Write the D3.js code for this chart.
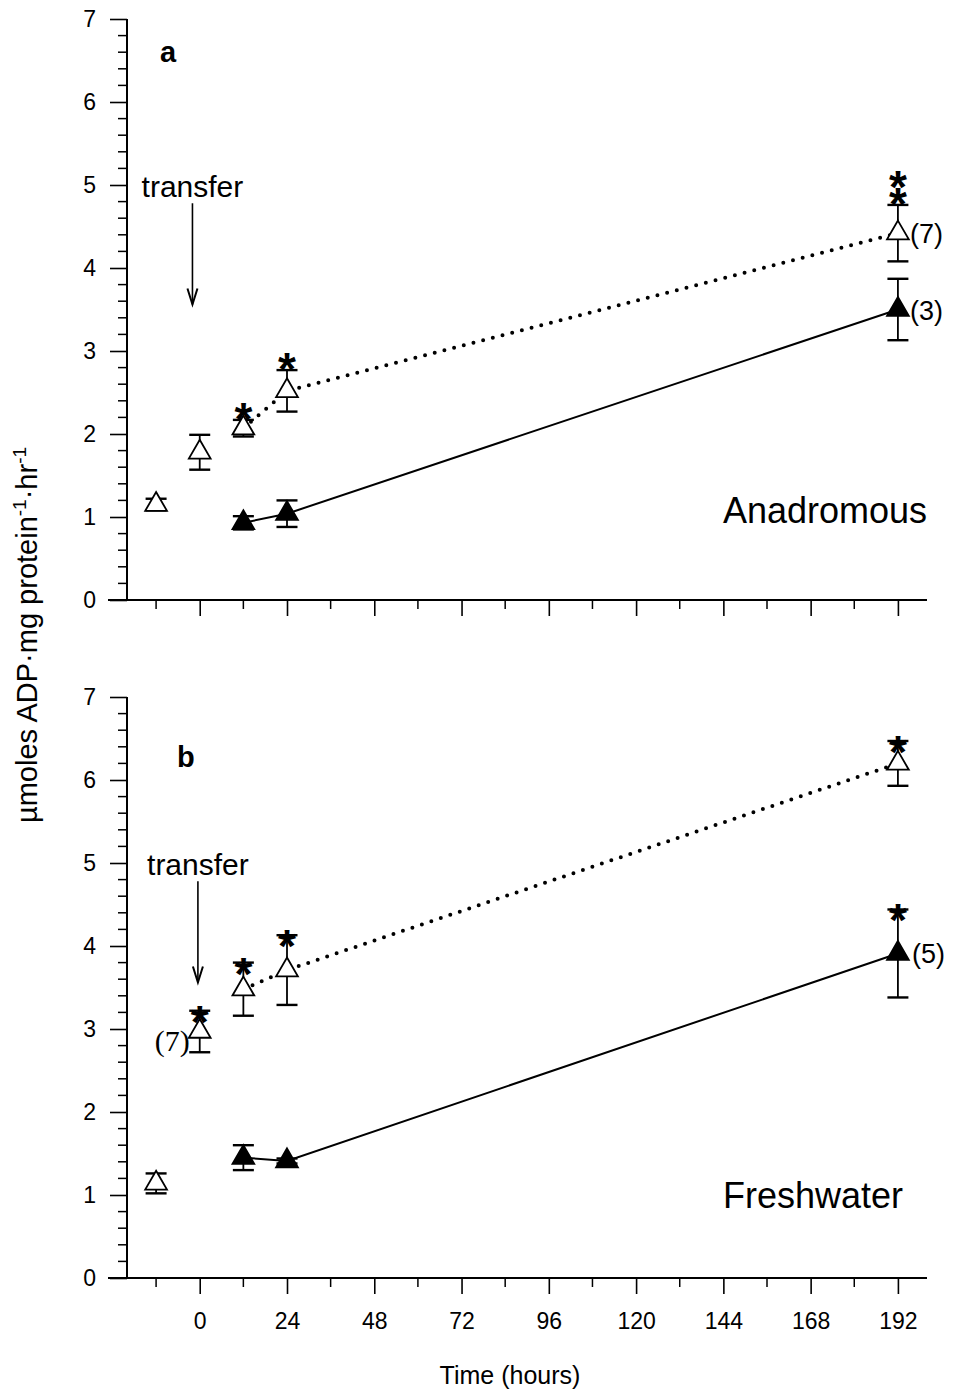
<!DOCTYPE html>
<html><head><meta charset="utf-8">
<script src="https://cdn.jsdelivr.net/npm/d3@7"></script>
<style>body{margin:0;background:#fff}svg{display:block}</style>
</head><body><svg id="c" width="959" height="1392"></svg>
<script>
// ---------- data ----------
const xTickValues = [0, 24, 48, 72, 96, 120, 144, 168, 192];
const xMinorTicks = [-12, 12, 36, 60, 84, 108, 132, 156, 180];
const yTickValues = [0, 1, 2, 3, 4, 5, 6, 7];

// Panel a (Anadromous)
const timesOpenA = [-12, 0, 12, 24, 192];
const openA      = [1.15, 1.78, 2.07, 2.52, 4.42];
const openAErr   = [0.07, 0.21, 0.10, 0.25, 0.34];
const openAStars = [0, 0, 1, 1, 2];
const timesFillA = [12, 24, 192];
const fillA      = [0.93, 1.04, 3.50];
const fillAErr   = [0.08, 0.16, 0.37];
const fillAStars = [0, 0, 0];

// Panel b (Freshwater)
const timesOpenB = [-12, 0, 12, 24, 192];
const openB      = [1.14, 2.97, 3.48, 3.71, 6.20];
const openBErr   = [0.12, 0.25, 0.32, 0.42, 0.27];
const openBStars = [0, 1, 1, 1, 1];
const timesFillB = [12, 24, 192];
const fillB      = [1.45, 1.41, 3.91];
const fillBErr   = [0.15, 0.03, 0.53];
const fillBStars = [0, 0, 1];

// ---------- drawing ----------
const svg = d3.select("#c");
const FONT = "'Liberation Sans', Arial, sans-serif";
const x = d3.scaleLinear().domain([-20, 200]).range([127, 927]);

function panel(p) {
  const y = d3.scaleLinear().domain([0, 7]).range([p.y0, p.y0 - 581]);
  const g = svg.append("g");

  // y axis
  g.append("line").attr("x1", x(-20)).attr("x2", x(-20))
    .attr("y1", y(0)).attr("y2", y(7)).attr("stroke", "#000").attr("stroke-width", 2);
  const yMinor = d3.range(0, 7.01, 0.2).filter(v => Math.abs(v - Math.round(v)) > 1e-6);
  g.selectAll(".ymin").data(yMinor).join("line")
    .attr("x1", x(-20) - 9).attr("x2", x(-20)).attr("y1", d => y(d)).attr("y2", d => y(d))
    .attr("stroke", "#000").attr("stroke-width", 1.5);
  const yAxis = d3.axisLeft(y).tickValues(yTickValues).tickSize(17).tickPadding(14).tickFormat(d3.format("d"));
  const ya = g.append("g").attr("transform", `translate(${x(-20)},0)`).call(yAxis);
  ya.select(".domain").remove();
  ya.selectAll("line").attr("stroke-width", 1.6);
  ya.selectAll("text").attr("font-family", FONT).attr("font-size", 23).attr("fill", "#000");

  // x axis
  g.append("line").attr("x1", 108).attr("x2", x(200))
    .attr("y1", y(0)).attr("y2", y(0)).attr("stroke", "#000").attr("stroke-width", 2);
  g.selectAll(".xmin").data(xMinorTicks).join("line")
    .attr("x1", d => x(d)).attr("x2", d => x(d)).attr("y1", y(0)).attr("y2", y(0) + 9)
    .attr("stroke", "#000").attr("stroke-width", 1.5);
  const xAxis = d3.axisBottom(x).tickValues(xTickValues).tickSize(16).tickPadding(19)
    .tickFormat(p.labels ? d3.format("d") : () => "");
  const xa = g.append("g").attr("transform", `translate(0,${y(0)})`).call(xAxis);
  xa.select(".domain").remove();
  xa.selectAll("line").attr("stroke-width", 1.6);
  xa.selectAll("text").attr("font-family", FONT).attr("font-size", 23).attr("fill", "#000");

  // lines
  const openPts = p.tO.map((t, i) => [t, p.vO[i]]).filter(d => d[0] >= 12);
  const fillPts = p.tF.map((t, i) => [t, p.vF[i]]);
  const line = d3.line().x(d => x(d[0])).y(d => y(d[1]));
  g.append("path").attr("d", line(openPts)).attr("fill", "none").attr("stroke", "#000")
    .attr("stroke-width", 4).attr("stroke-linecap", "round").attr("stroke-dasharray", "0 10");
  g.append("path").attr("d", line(fillPts)).attr("fill", "none").attr("stroke", "#000")
    .attr("stroke-width", 2);

  // error bars
  function errBars(ts, vs, es) {
    const d = ts.map((t, i) => ({t, v: vs[i], e: es[i]}));
    g.selectAll(null).data(d).join("line")
      .attr("x1", d => x(d.t)).attr("x2", d => x(d.t))
      .attr("y1", d => y(d.v - d.e)).attr("y2", d => y(d.v + d.e))
      .attr("stroke", "#000").attr("stroke-width", 1.8);
    [-1, 1].forEach(s => {
      g.selectAll(null).data(d).join("line")
        .attr("x1", d => x(d.t) - 10.5).attr("x2", d => x(d.t) + 10.5)
        .attr("y1", d => y(d.v + s * d.e)).attr("y2", d => y(d.v + s * d.e))
        .attr("stroke", "#000").attr("stroke-width", 2.4);
    });
  }
  errBars(p.tO, p.vO, p.eO);
  errBars(p.tF, p.vF, p.eF);

  // triangles
  const tri = d3.symbol().type(d3.symbolTriangle).size(205);
  g.selectAll(null).data(p.tO.map((t, i) => [t, p.vO[i]])).join("path")
    .attr("d", tri).attr("transform", d => `translate(${x(d[0])},${y(d[1])})`)
    .attr("fill", "#fff").attr("stroke", "#000").attr("stroke-width", 1.8);
  g.selectAll(null).data(p.tF.map((t, i) => [t, p.vF[i]])).join("path")
    .attr("d", tri).attr("transform", d => `translate(${x(d[0])},${y(d[1])})`)
    .attr("fill", "#000").attr("stroke", "#000").attr("stroke-width", 1.8);

  // asterisks (stacked ones share one text element)
  function stars(ts, vs, es, ns) {
    ts.forEach((t, i) => {
      if (!ns[i]) return;
      const cy = y(vs[i] + es[i]) - p.starGap;
      const txt = g.append("text").attr("x", x(t)).attr("y", cy + 27)
        .attr("text-anchor", "middle").attr("font-family", FONT)
        .attr("font-weight", "bold").attr("font-size", 46);
      for (let k = 0; k < ns[i]; k++) {
        const ts2 = txt.append("tspan").text("*");
        if (k > 0) ts2.attr("x", x(t)).attr("dy", -17);
      }
    });
  }
  stars(p.tO, p.vO, p.eO, p.sO);
  stars(p.tF, p.vF, p.eF, p.sF);

  // annotations
  g.append("text").attr("x", p.letterX).attr("y", y(p.letterV)).attr("font-family", FONT)
    .attr("font-weight", "bold").attr("font-size", 29).text(p.letter);
  g.append("text").attr("x", x(p.arrowT)).attr("y", y(4.86)).attr("text-anchor", "middle")
    .attr("font-family", FONT).attr("font-size", 30).text("transfer");
  const ax = x(p.arrowT), ayTop = y(4.78), ayBot = y(3.56);
  g.append("line").attr("x1", ax).attr("x2", ax).attr("y1", ayTop).attr("y2", ayBot)
    .attr("stroke", "#000").attr("stroke-width", 1.6);
  g.append("path").attr("d", `M${ax - 5},${ayBot - 16}L${ax},${ayBot}L${ax + 5},${ayBot - 16}`)
    .attr("fill", "none").attr("stroke", "#000").attr("stroke-width", 2);
  g.append("text").attr("x", p.nameX).attr("y", y(p.nameV)).attr("font-family", FONT)
    .attr("font-size", 36).text(p.name);
  p.nLabels.forEach(n => {
    g.append("text").attr("x", x(n.t) + n.dx).attr("y", y(n.v) + 10)
      .attr("text-anchor", n.dx < 0 ? "end" : "start")
      .attr("font-family", n.serif ? "'Liberation Serif', serif" : FONT)
      .attr("font-size", n.serif ? 30 : 27).text(n.text);
  });
}

panel({y0: 600, labels: false, tO: timesOpenA, vO: openA, eO: openAErr, sO: openAStars,
  tF: timesFillA, vF: fillA, eF: fillAErr, sF: fillAStars, starGap: 12,
  letter: "a", letterX: 160, letterV: 6.48, arrowT: -2, name: "Anadromous", nameX: 723, nameV: 0.93,
  nLabels: [{t: 192, v: 4.42, dx: 12, text: "(7)"}, {t: 192, v: 3.50, dx: 12, text: "(3)"}]});

panel({y0: 1278, labels: true, tO: timesOpenB, vO: openB, eO: openBErr, sO: openBStars,
  tF: timesFillB, vF: fillB, eF: fillBErr, sF: fillBStars, starGap: 0,
  letter: "b", letterX: 177, letterV: 6.16, arrowT: -0.5, name: "Freshwater", nameX: 723, nameV: 0.84,
  nLabels: [{t: 192, v: 3.91, dx: 14, text: "(5)"}, {t: 0, v: 2.85, dx: -10, text: "(7)", serif: true}]});

svg.append("text").attr("x", 510).attr("y", 1384).attr("text-anchor", "middle")
  .attr("font-family", FONT).attr("font-size", 25).text("Time (hours)");

const yl = svg.append("text").attr("transform", "translate(37,635) rotate(-90)")
  .attr("text-anchor", "middle").attr("font-family", FONT).attr("font-size", 29);
yl.append("tspan").text("µmoles ADP·mg protein");
yl.append("tspan").attr("dy", -11).attr("font-size", 19).text("-1");
yl.append("tspan").attr("dy", 11).text("·hr");
yl.append("tspan").attr("dy", -11).attr("font-size", 19).text("-1");
</script>
</body></html>
